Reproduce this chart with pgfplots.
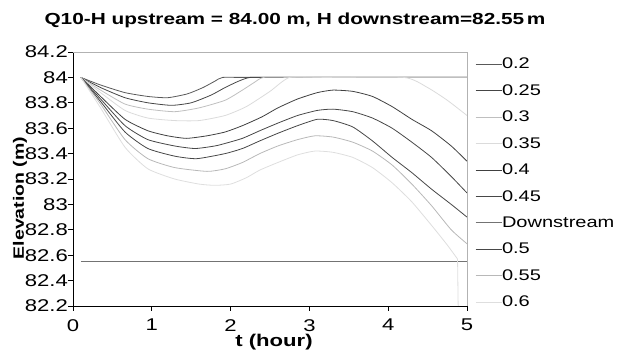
\documentclass[border=0pt]{standalone}
\usepackage{pgfplots}
\pgfplotsset{compat=1.18}
\usepackage{fontspec}
\setmainfont[FakeStretch=1.3]{Liberation Sans}
\definecolor{cA}{gray}{0.35}
\definecolor{cB}{gray}{0.27}
\definecolor{cC}{gray}{0.75}
\definecolor{cD}{gray}{0.86}
\definecolor{cE}{gray}{0.25}
\definecolor{cF}{gray}{0.28}
\definecolor{cDn}{gray}{0.45}
\definecolor{cG}{gray}{0.28}
\definecolor{cH}{gray}{0.72}
\definecolor{cI}{gray}{0.87}
\begin{document}
\begin{tikzpicture}
\path[use as bounding box] (-73pt,-57pt) rectangle (550pt,306pt);
\begin{axis}[
  at={(0pt,0pt)}, anchor=south west,
  scale only axis, width=394pt, height=254pt,
  xmin=0, xmax=5, ymin=82.2, ymax=84.2,
  xtick={0,1,2,3,4,5},
  ytick={82.2,82.4,82.6,82.8,83,83.2,83.4,83.6,83.8,84,84.2},
  yticklabels={82.2,82.4,82.6,82.8,83,83.2,83.4,83.6,83.8,84,84.2},
  axis x line*=bottom, axis y line*=left,
  axis line style={black, line width=0.8pt},
  tick align=outside, major tick length=5pt,
  tick style={black, line width=0.8pt},
  /pgf/number format/assume math mode=true,
  ticklabel style={font=\fontsize{17}{20}\selectfont},
  xticklabel style={anchor=north, inner ysep=0pt, yshift=-8pt},
  yticklabel style={anchor=east, inner xsep=0pt},
  clip mode=individual,
  legend cell align=left,
  legend style={draw=none, fill=none, at={(1,1)}, anchor=north west,
    xshift=8pt, yshift=-5.8pt, inner sep=0pt, row sep=14.2pt, column sep=0pt,
    font=\fontsize{15.4}{18}\selectfont, nodes={inner sep=0pt}},
  legend image code/.code={\draw[#1] (0pt,0pt) -- (26pt,0pt);},
  every axis plot/.append style={line width=0.8pt},
]
\addplot[cA, smooth, tension=0.35] coordinates {(0.1,84.00) (0.35,83.94) (0.66,83.88) (0.95,83.85) (1.2,83.84) (1.45,83.87) (1.65,83.92) (1.8,83.97) (1.9,84.00) (2.2,84.00) (5.0,84.00)};
\addlegendentry{0.2}
\addplot[cB, smooth, tension=0.35] coordinates {(0.1,84.00) (0.35,83.92) (0.66,83.84) (0.95,83.80) (1.25,83.78) (1.5,83.80) (1.75,83.86) (1.93,83.92) (2.1,83.97) (2.25,84.00) (2.6,84.00) (5.0,84.00)};
\addlegendentry{0.25}
\addplot[cC, smooth, tension=0.35] coordinates {(0.1,84.00) (0.35,83.90) (0.66,83.79) (0.95,83.75) (1.29,83.73) (1.6,83.76) (1.93,83.82) (2.15,83.90) (2.3,83.96) (2.42,84.00) (2.8,84.00) (5.0,84.00)};
\addlegendentry{0.3}
\addplot[cD, smooth, tension=0.35] coordinates {(0.1,84.00) (0.35,83.88) (0.66,83.74) (0.95,83.68) (1.29,83.66) (1.6,83.66) (1.93,83.70) (2.2,83.77) (2.5,83.89) (2.75,84.00) (3.2,84.00) (4.2,84.00) (4.5,83.92) (4.75,83.82) (5.0,83.70)};
\addlegendentry{0.35}
\addplot[cE, smooth, tension=0.35] coordinates {(0.1,84.00) (0.35,83.85) (0.66,83.67) (0.95,83.58) (1.2,83.54) (1.44,83.52) (1.7,83.54) (1.93,83.57) (2.15,83.62) (2.4,83.69) (2.6,83.76) (2.85,83.83) (3.1,83.88) (3.3,83.90) (3.55,83.89) (3.8,83.85) (4.05,83.77) (4.3,83.67) (4.55,83.58) (4.8,83.46) (5.0,83.34)};
\addlegendentry{0.4}
\addplot[cF, smooth, tension=0.35] coordinates {(0.1,84.00) (0.35,83.83) (0.66,83.62) (0.95,83.51) (1.29,83.46) (1.55,83.44) (1.8,83.46) (1.93,83.48) (2.15,83.52) (2.37,83.58) (2.6,83.64) (2.85,83.70) (3.1,83.74) (3.3,83.75) (3.55,83.73) (3.8,83.68) (4.05,83.60) (4.3,83.49) (4.55,83.37) (4.8,83.22) (5.0,83.09)};
\addlegendentry{0.45}
\addplot[cDn] coordinates {(0.1,82.55) (5.0,82.55)};
\addlegendentry{Downstream}
\addplot[cG, smooth, tension=0.35] coordinates {(0.1,84.00) (0.35,83.81) (0.66,83.57) (0.95,83.44) (1.29,83.38) (1.57,83.36) (1.93,83.40) (2.15,83.44) (2.37,83.50) (2.6,83.56) (2.85,83.62) (3.1,83.67) (3.3,83.66) (3.55,83.61) (3.8,83.50) (4.05,83.37) (4.3,83.25) (4.55,83.12) (4.8,83.00) (5.0,82.90)};
\addlegendentry{0.5}
\addplot[cH, smooth, tension=0.35] coordinates {(0.1,84.00) (0.35,83.79) (0.66,83.51) (0.95,83.36) (1.29,83.29) (1.7,83.26) (1.93,83.28) (2.15,83.33) (2.37,83.40) (2.6,83.46) (2.85,83.51) (3.07,83.54) (3.3,83.53) (3.55,83.49) (3.8,83.42) (4.05,83.31) (4.3,83.16) (4.55,82.99) (4.8,82.80) (5.0,82.69)};
\addlegendentry{0.55}
\addplot[cI, smooth, tension=0.35] coordinates {(0.1,84.00) (0.35,83.76) (0.66,83.45) (0.95,83.28) (1.29,83.20) (1.6,83.16) (1.8,83.15) (2.0,83.16) (2.2,83.21) (2.37,83.27) (2.6,83.33) (2.85,83.39) (3.07,83.42) (3.3,83.41) (3.55,83.37) (3.8,83.29) (4.05,83.17) (4.3,83.02) (4.57,82.82) (4.75,82.68) (4.88,82.57)};
\addlegendentry{0.6}
\addplot[cI, forget plot] coordinates {(4.88,82.57) (4.89,82.10)};
\draw[black!30, line width=0.8pt] (rel axis cs:0,1) -- (rel axis cs:1,1) -- (rel axis cs:1,0);
\end{axis}
\node[anchor=base, font=\bfseries\fontsize{16}{19}\selectfont] at (222pt,281pt) {Q10-H upstream = 84.00 m, H downstream=82.55\,m};
\node[anchor=base, font=\bfseries\fontsize{17}{20}\selectfont] at (201pt,-40.7pt) {t (hour)};
\node[rotate=90, anchor=base, font=\bfseries\fontsize{15}{18}\selectfont] at (-49pt,108pt) {Elevation (m)};
\end{tikzpicture}
\end{document}
